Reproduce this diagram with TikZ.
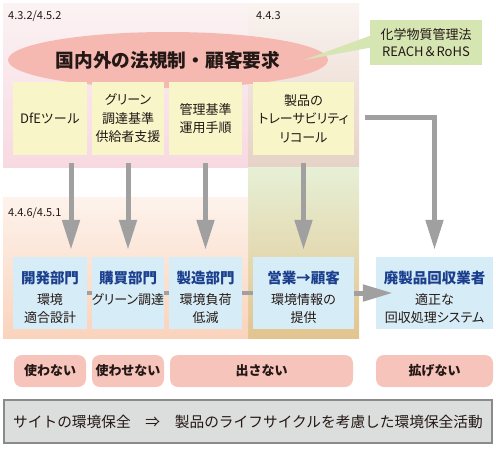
\documentclass[tikz,border=0pt]{standalone}
\usepackage{fontspec}
\setmainfont{Noto Sans CJK JP}
\newfontfamily\jpp{Noto Sans CJK JP}[RawFeature=+palt]
\usetikzlibrary{arrows.meta,shapes.geometric,calc}
\definecolor{pinkTop}{HTML}{FBF3F3}
\definecolor{pinkBot}{HTML}{F8D9E2}
\definecolor{colTop}{HTML}{FAF3F0}
\definecolor{colBot}{HTML}{E6D2C6}
\definecolor{greenTop}{HTML}{E6F0D6}
\definecolor{tanBot}{HTML}{E2C48F}
\definecolor{peachTop}{HTML}{FDF3EC}
\definecolor{peachBot}{HTML}{FAD3BC}
\definecolor{ellpink}{HTML}{F6B9B1}
\definecolor{yellowbox}{HTML}{F8F5C9}
\definecolor{bluebox}{HTML}{D6ECF6}
\definecolor{titleblue}{HTML}{1B3F8E}
\definecolor{arrowgray}{HTML}{A0A0A0}
\definecolor{pillpink}{HTML}{F7C4BB}
\definecolor{boxgray}{HTML}{DCDEDD}
\definecolor{bordergray}{HTML}{8A8A8A}
\definecolor{callgreen}{HTML}{D6E6B3}
\definecolor{txt}{HTML}{231815}
\newcommand\jpA{\fontsize{13}{18.5}\selectfont}
\newcommand\jpB{\fontsize{13}{16}\selectfont}
\newcommand\jpT{\fontsize{14.5}{17}\selectfont}
\newcommand\jpS{\fontsize{11}{13}\selectfont}
\newcommand\jpE{\fontsize{18.7}{22}\selectfont}
\newcommand\jpF{\fontsize{14.7}{18}\selectfont}
\newcommand\btl[1]{\rule{0pt}{22pt}{\jpT\bfseries\color{titleblue}#1}}
\begin{document}
\begin{tikzpicture}[x=1pt,y=-1pt,
  ybox/.style={fill=yellowbox, inner sep=0pt, align=center, font=\jpA, text=txt, minimum height=73pt},
  bbox/.style={fill=bluebox, inner sep=0pt, align=center, font=\jpA, text=txt, minimum height=72pt},
  pill/.style={fill=pillpink, rounded corners=8pt, inner sep=0pt, minimum height=32pt, font=\jpB\bfseries, text=txt},
  bigarrow/.style={draw=arrowgray, line width=5pt, -{Triangle[width=17pt,length=30pt]}},
  link/.style={draw=arrowgray, line width=4pt},
  seclabel/.style={font=\jpS, text=txt, anchor=west, inner sep=0pt}
]
\useasboundingbox (0,0) rectangle (496,448);
% backgrounds
\path[top color=pinkTop, bottom color=pinkBot] (3,3) rectangle (248,167);
\path[top color=colTop, bottom color=colBot] (248,3) rectangle (359,167);
\path[top color=greenTop, bottom color=tanBot] (248,167) rectangle (359,338);
\path[top color=peachTop, bottom color=peachBot] (3,197) rectangle (248,338);
% section labels
\node[seclabel] (s1) at (8,16) {4.3.2/4.5.2};
\node[seclabel] (s2) at (256,16) {4.4.3};
\node[seclabel] (s3) at (8,213) {4.4.6/4.5.1};
% ellipse
\node[ellipse, fill=ellpink, minimum width=320pt, minimum height=56pt, inner sep=0pt,
  font=\jpE\bfseries, text=txt] (law) at (168,60) {国内外の法規制・顧客要求};
% callout
\node[fill=callgreen, minimum width=112pt, minimum height=45pt, inner sep=0pt, align=center,
  font=\fontsize{13}{17}\selectfont, text=txt] (cl) at (426,42.5) {化学物質管理法\\REACH＆RoHS};
\coordinate (tip) at (304,60);
\fill[callgreen] ($(cl.west)+(1,-7)$) -- (tip) -- ($(cl.west)+(1,5)$) -- cycle;
% yellow boxes
\node[ybox, minimum width=74pt] (y1) at (50,118.5) {DfEツール};
\node[ybox, minimum width=72pt] (y2) at (128,118.5) {{\jpp グリーン}\\調達基準\\供給者支援};
\node[ybox, minimum width=73pt] (y3) at (205.5,118.5) {管理基準\\運用手順};
\node[ybox, minimum width=101pt] (y4) at (303.5,118.5) {製品の\\{\jpp トレーサビリティ}\\{\jpp リコール}};
% blue boxes
\node[bbox, minimum width=74pt] (b1) at (50,293) {\btl{開発部門}\\[2pt]環境\\適合設計};
\node[bbox, minimum width=72pt] (b2) at (128,293) {\btl{購買部門}\\[2pt]{\jpp グリーン調達}\\\phantom{環境}};
\node[bbox, minimum width=73pt] (b3) at (205.5,293) {\btl{製造部門}\\[2pt]環境負荷\\低減};
\node[bbox, minimum width=101pt] (b4) at (303.5,293) {\btl{営業→顧客}\\[2pt]環境情報の\\提供};
\node[bbox, minimum width=117pt] (b5) at (434.5,293) {\btl{廃製品回収業者}\\[2pt]適正な\\{\jpp 回収処理システム}};
% arrows
\draw[bigarrow, shorten <=8pt, shorten >=7pt] ($(y1.south)+(21,0)$) -- ($(b1.north)+(21,0)$);
\draw[bigarrow, shorten <=8pt, shorten >=7pt] (y2.south) -- (b2.north);
\draw[bigarrow, shorten <=8pt, shorten >=7pt] (y3.south) -- (b3.north);
\draw[bigarrow, shorten <=8pt, shorten >=7pt] (y4.south) -- (b4.north);
\draw[bigarrow, shorten <=11pt, shorten >=7pt] ($(y4.east)+(0,-1.5)$) -| (b5.north);
\draw[link] (b1) -- (b2);
\draw[link] (b2) -- (b3);
\draw[link] (b3) -- (b4);
\draw[draw=arrowgray, line width=5pt, -{Triangle[width=16pt,length=30pt]}, shorten >=-17pt] (b4) -- (b5);
% pills
\node[pill, minimum width=72pt] (p1) at (50,371) {使わない};
\node[pill, minimum width=72pt] (p2) at (128,371) {使わせない};
\node[pill, minimum width=183pt] (p3) at (261.5,371) {出さない};
\node[pill, minimum width=117pt] (p4) at (434.5,371) {拡げない};
% bottom box
\node[draw=bordergray, line width=2pt, fill=boxgray, minimum width=488pt, minimum height=43pt,
  inner sep=0pt, font=\jpF, text=txt] (foot) at (248,421.5)
  {サイトの環境保全\hspace{1em}⇒\hspace{1em}製品のライフサイクルを考慮した環境保全活動};
\end{tikzpicture}
\end{document}
